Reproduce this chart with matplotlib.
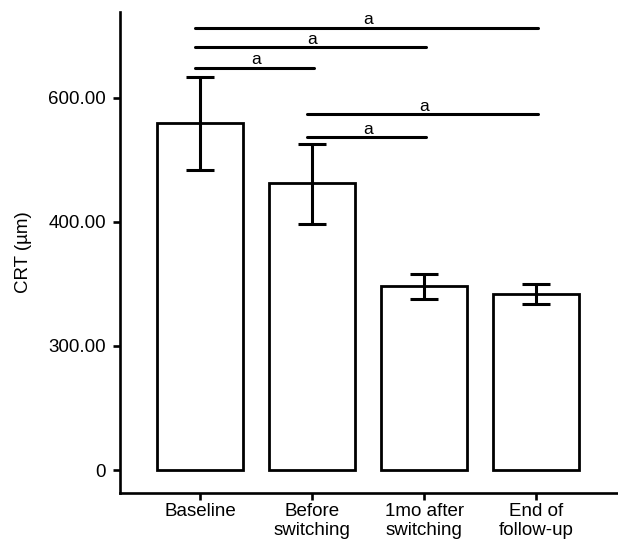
import numpy as np
import matplotlib
matplotlib.use("Agg")
import matplotlib.pyplot as plt

plt.rcParams['font.family'] = ['Liberation Sans', 'DejaVu Sans']

# data (CRT in um)
groups = ['Baseline', 'Before\nswitching', '1mo after\nswitching', 'End of\nfollow-up']
crt_mean = [559, 462, 348, 342]
crt_sd = [75, 64, 10, 8]

# significance comparisons: (group i, group j, bracket height, label)
comparisons = [(0, 3, 713, 'a'), (0, 2, 681, 'a'), (0, 1, 648, 'a'),
               (1, 3, 573, 'a'), (1, 2, 536, 'a')]

yticks = [0, 300, 400, 600]
ytick_labels = ['0', '300.00', '400.00', '600.00']


# the original axis puts 0, 300, 400, 600 at equal steps
def forward(v):
    v = np.asarray(v, dtype=float)
    return np.where(v <= 300, v / 300.0,
                    np.where(v <= 400, 1 + (v - 300) / 100.0, 2 + (v - 400) / 200.0))


def inverse(p):
    p = np.asarray(p, dtype=float)
    return np.where(p <= 1, p * 300.0,
                    np.where(p <= 2, 300 + (p - 1) * 100.0, 400 + (p - 2) * 200.0))


fig = plt.figure(figsize=(6.18, 5.44), dpi=100)
ax = fig.add_axes([120 / 618, 51 / 544, 498 / 618, 481 / 544])
ax.set_yscale('function', functions=(forward, inverse))

x = np.arange(len(groups))
ax.bar(x, crt_mean, width=0.77, color='white', edgecolor='black', linewidth=2, zorder=2)
ax.errorbar(x, crt_mean, yerr=crt_sd, fmt='none', ecolor='black', elinewidth=2.2,
            capsize=10.4, capthick=2.2, zorder=3)

for i, j, h, lab in comparisons:
    ax.plot([i - 0.05, j + 0.02], [h, h], color='black', lw=2.2, solid_capstyle='round')
    ax.annotate(lab, xy=((i + j) / 2, h), xytext=(0, 0.5), textcoords='offset points',
                ha='center', va='bottom', fontsize=12.5)

ax.set_xlim(-0.718, 3.733)
ax.set_ylim(-55.5, 738)
ax.set_xticks(x)
ax.set_xticklabels(groups, fontsize=13.5)
ax.set_yticks(yticks)
ax.set_yticklabels(ytick_labels, fontsize=13.5)
ax.minorticks_off()
ax.set_ylabel('CRT (µm)', fontsize=13.5, labelpad=12)

for s in ['top', 'right']:
    ax.spines[s].set_visible(False)
for s in ['left', 'bottom']:
    ax.spines[s].set_linewidth(1.9)
ax.tick_params(axis='both', length=5, width=1.9)
ax.tick_params(axis='y', pad=5)
ax.tick_params(axis='x', pad=2)

fig.savefig('out.png', dpi=100)
